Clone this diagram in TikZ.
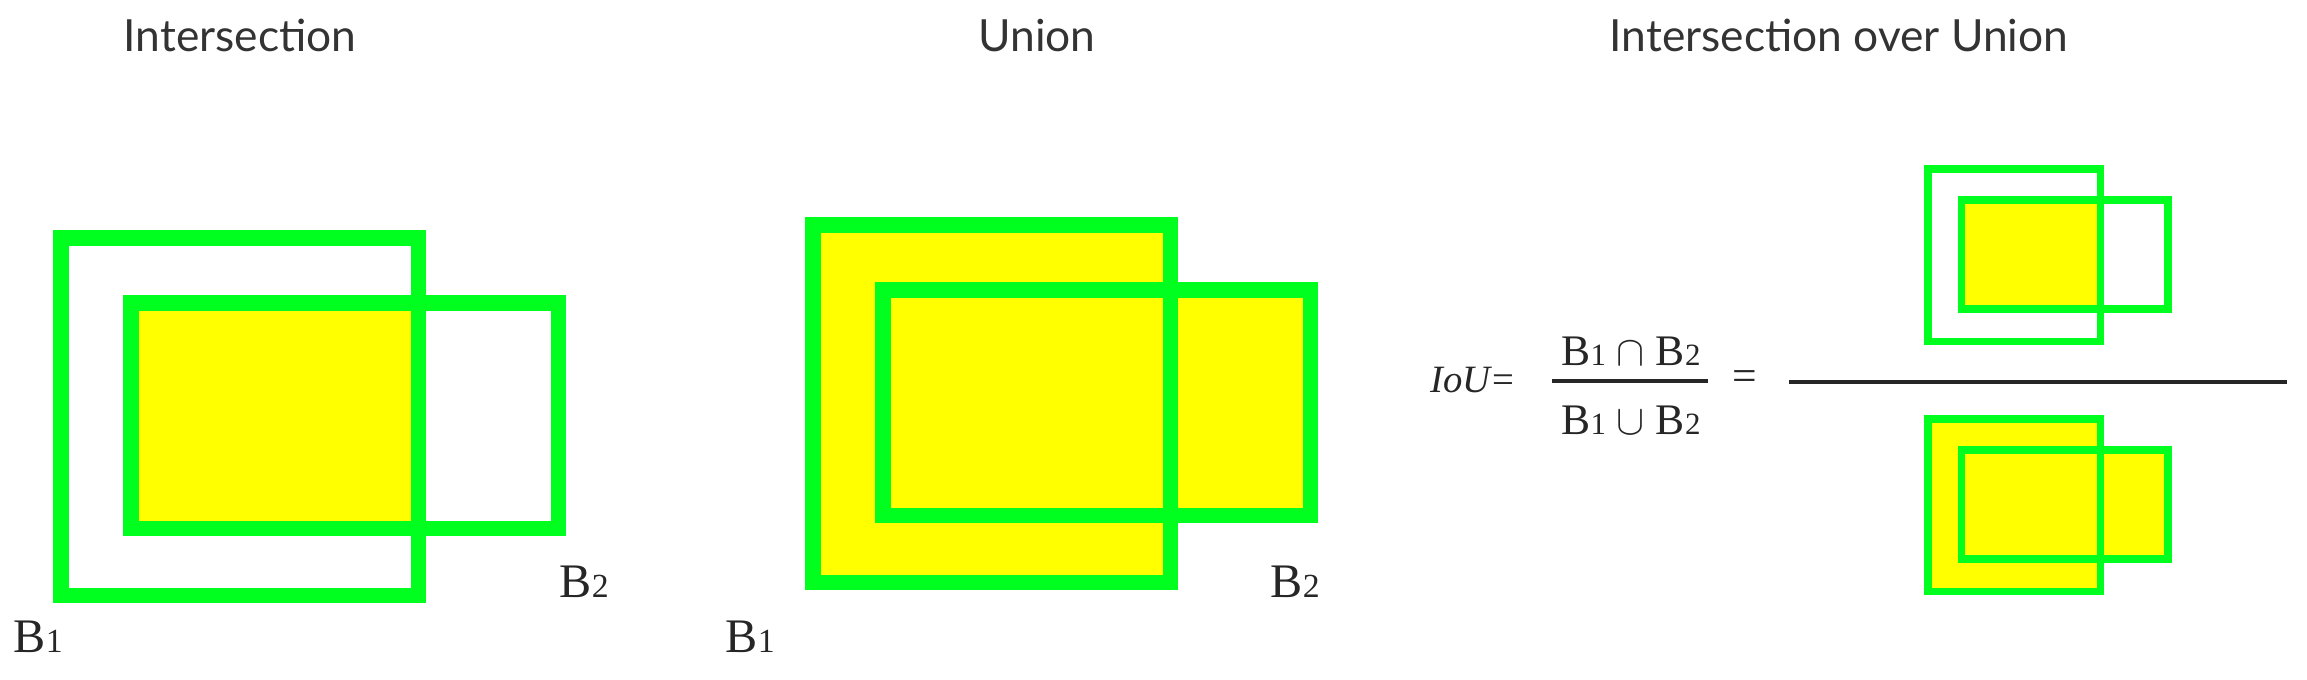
\documentclass[tikz,border=0pt]{standalone}
\usepackage{fontspec}
\setmainfont{Liberation Serif}
\newfontfamily\titlefont{Lato}
\usetikzlibrary{positioning}
\definecolor{boxgreen}{RGB}{0,255,30}
\definecolor{boxyellow}{RGB}{255,255,0}
\tikzset{
  heading/.style={font=\titlefont\fontsize{12.6}{14}\selectfont, text=black!80, inner sep=0pt, anchor=base},
  blabel/.style={font=\fontsize{13.7}{15}\selectfont, text=black!85, inner sep=0pt, anchor=base west},
  fractext/.style={font=\fontsize{12.4}{14}\selectfont, text=black!85, inner sep=0pt},
}
\newcommand{\bbig}[1]{B{\fontsize{9.6}{10}\selectfont #1}}
\newcommand{\bsmall}[1]{B{\fontsize{8.8}{10}\selectfont #1}}
% B1 outer corner at (#1), scale #2, line width #3
\def\interpair(#1)(#2:#3){
  \begin{scope}[shift={(#1)}, scale=#2]
    \fill[boxyellow] (77.75,72.75) rectangle (365.25,298.25);
    \draw[line width=#3, color=boxgreen] (7.75,7.75) rectangle (365.25,365.25);
    \draw[line width=#3, color=boxgreen] (77.75,72.75) rectangle (505.25,298.25);
  \end{scope}}
\def\unionpair(#1)(#2:#3){
  \begin{scope}[shift={(#1)}, scale=#2]
    \fill[boxyellow] (7.75,7.75) rectangle (365.25,365.25);
    \fill[boxyellow] (77.75,72.75) rectangle (505.25,298.25);
    \draw[line width=#3, color=boxgreen] (7.75,7.75) rectangle (365.25,365.25);
    \draw[line width=#3, color=boxgreen] (77.75,72.75) rectangle (505.25,298.25);
  \end{scope}}

\begin{document}
\begin{tikzpicture}[x=0.01cm, y=-0.01cm]
	\useasboundingbox (0,0) rectangle (2307,679);

	%% headings
	\node[heading] (hinter) at (240,52) {Intersection};
	\node[heading] (hunion) at (1037,52) {Union};
	\node[heading] (hiou) at (1839,52) {Intersection over Union};

	%% intersection
	\interpair(53,230)(1:0.155cm)
	\node[blabel] (b1inter) at (13,652) {\bbig{1}};
	\node[blabel] (b2inter) at (559,597) {\bbig{2}};

	%% union
	\unionpair(805,217)(1:0.155cm)
	\node[blabel] (b1union) at (725,652) {\bbig{1}};
	\node[blabel] (b2union) at (1270,597) {\bbig{2}};

	%% formula
	\node[fractext, anchor=base west, font=\fontsize{11}{13}\selectfont] (iou) at (1430,392) {\textit{IoU}=};
	\node[fractext, anchor=base] (num) at (1631,365) {\bsmall{1} $\cap$ \bsmall{2}};
	\node[fractext, anchor=base] (den) at (1631,434) {\bsmall{1} $\cup$ \bsmall{2}};
	\coordinate (fracl) at (1552,381);
	\coordinate (fracr) at (1708,381);
	\draw[line width=0.04cm, color=black!85] (fracl) -- (fracr);
	\node[fractext] (eq) at (1745,381) {=};
	\coordinate (barl) at (1789,382);
	\coordinate (barr) at (2287,382);
	\draw[line width=0.04cm, color=black!85] (barl) -- (barr);

	\interpair(1924,165)(0.483:0.078cm)
	\unionpair(1924,415)(0.483:0.078cm)
\end{tikzpicture}
\end{document}
